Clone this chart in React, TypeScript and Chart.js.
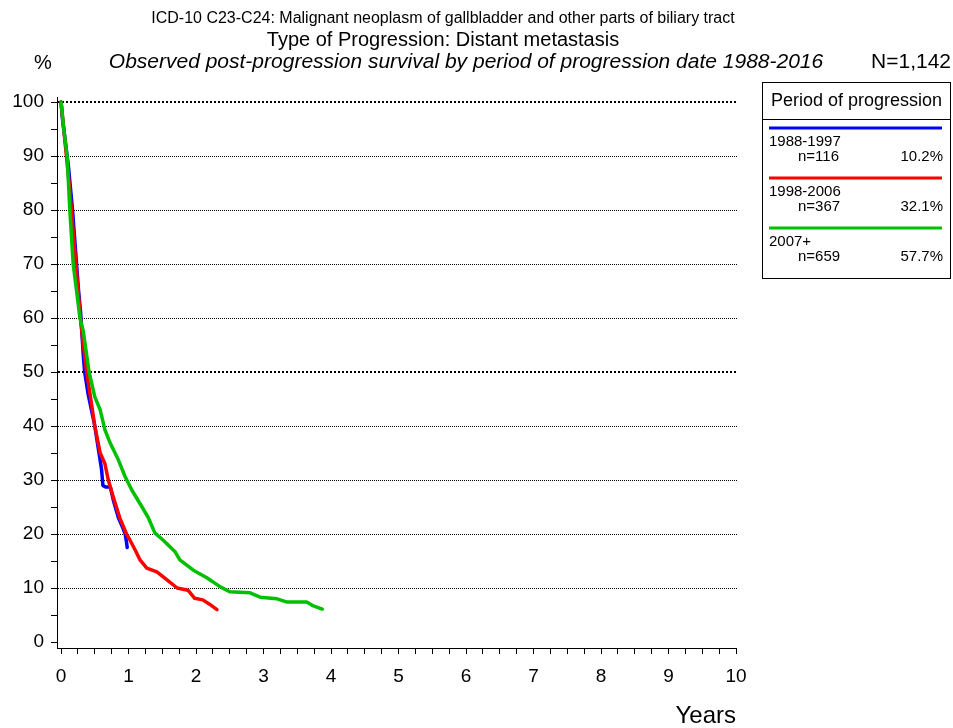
import React, { useEffect, useRef } from 'react';
import { Chart, registerables } from 'chart.js';

Chart.register(...registerables);

const FONT = '"Liberation Sans", Arial, Helvetica, sans-serif';

const titleLine1 = 'ICD-10 C23-C24: Malignant neoplasm of gallbladder and other parts of biliary tract';
const titleLine2 = 'Type of Progression: Distant metastasis';
const titleLine3 = 'Observed post-progression survival by period of progression date 1988-2016';
const totalLabel = 'N=1,142';
const yAxisTitle = '%';
const xAxisTitle = 'Years';
const legendTitle = 'Period of progression';

const yTickValues = [0, 5, 10, 15, 20, 25, 30, 35, 40, 45, 50, 55, 60, 65, 70, 75, 80, 85, 90, 95, 100];
const yGridValues = [10, 20, 30, 40, 50, 60, 70, 80, 90, 100];
const xTickValues = [
  0, 0.25, 0.5, 0.75, 1, 1.25, 1.5, 1.75, 2, 2.25, 2.5, 2.75, 3, 3.25, 3.5, 3.75, 4, 4.25, 4.5, 4.75,
  5, 5.25, 5.5, 5.75, 6, 6.25, 6.5, 6.75, 7, 7.25, 7.5, 7.75, 8, 8.25, 8.5, 8.75, 9, 9.25, 9.5, 9.75, 10,
];

// 1988-1997
const blueYears = [0, 0.02, 0.05, 0.08, 0.11, 0.14, 0.17, 0.2, 0.23, 0.26, 0.29, 0.31, 0.33, 0.35, 0.4, 0.45, 0.5, 0.55, 0.6, 0.62, 0.66, 0.73, 0.78, 0.85, 0.92, 0.95, 0.97, 0.98];
const blueSurv = [100, 97, 94, 91, 88, 84, 80, 75, 70, 65, 61, 57, 53, 50, 46, 43, 40, 36, 32, 29, 28.7, 28.7, 26, 23, 21, 20, 18.5, 17.5];

// 1998-2006
const redYears = [0, 0.04, 0.08, 0.12, 0.16, 0.2, 0.24, 0.28, 0.32, 0.38, 0.44, 0.5, 0.58, 0.65, 0.7, 0.77, 0.87, 0.97, 1.02, 1.1, 1.17, 1.27, 1.42, 1.57, 1.72, 1.88, 1.98, 2.1, 2.2, 2.31];
const redSurv = [100, 95, 90, 85, 79, 73, 67, 61, 56, 50, 45, 40, 35, 33, 30, 27, 23, 20, 18.9, 17, 15.2, 13.7, 13, 11.5, 10, 9.6, 8.1, 7.8, 7, 6];

// 2007+
const greenYears = [0, 0.04, 0.09, 0.13, 0.18, 0.23, 0.28, 0.33, 0.415, 0.5, 0.58, 0.65, 0.73, 0.85, 0.95, 1.05, 1.2, 1.29, 1.39, 1.51, 1.69, 1.76, 1.96, 2.16, 2.36, 2.5, 2.8, 2.95, 3.2, 3.35, 3.64, 3.72, 3.87];
const greenSurv = [100, 95, 90, 80, 70, 65, 60, 57.5, 50, 45.4, 43, 39.3, 36.8, 33.7, 30.6, 28.1, 25, 23.1, 20.2, 18.9, 16.7, 15.2, 13.3, 11.9, 10.2, 9.3, 9.1, 8.3, 8, 7.4, 7.4, 6.8, 6.1];

const seriesLabels = ['1988-1997', '1998-2006', '2007+'];
const seriesCounts = ['n=116', 'n=367', 'n=659'];
const seriesPercents = ['10.2%', '32.1%', '57.7%'];
const seriesColors = ['#0000ff', '#ff0000', '#00c000'];

const toPoints = (xs: number[], ys: number[]) => xs.map((x, i) => ({ x, y: ys[i] }));

const decorPlugin = {
  id: 'decor',
  beforeDatasetsDraw(chart: any) {
    const { ctx, chartArea, scales } = chart;
    const y = scales.y;
    ctx.save();
    ctx.strokeStyle = '#000';
    for (const v of yGridValues) {
      const bold = v === 50 || v === 100;
      const py = bold ? Math.round(y.getPixelForValue(v)) : Math.round(y.getPixelForValue(v)) + 0.5;
      ctx.lineWidth = bold ? 2 : 1;
      ctx.setLineDash(bold ? [2, 2] : [1, 1]);
      ctx.beginPath();
      ctx.moveTo(chartArea.left + 1, py);
      ctx.lineTo(chartArea.right + 2, py);
      ctx.stroke();
    }
    ctx.restore();
  },
  afterDraw(chart: any) {
    const { ctx, chartArea } = chart;
    ctx.save();
    ctx.fillStyle = '#000';
    ctx.textBaseline = 'middle';

    // titles
    ctx.textAlign = 'center';
    ctx.font = `16px ${FONT}`;
    ctx.fillText(titleLine1, 443, 19);
    ctx.font = `20px ${FONT}`;
    ctx.fillText(titleLine2, 443, 40);
    ctx.font = `italic 21px ${FONT}`;
    ctx.fillText(titleLine3, 466, 62);
    ctx.font = `20px ${FONT}`;
    ctx.fillText(yAxisTitle, 43, 63);
    ctx.textAlign = 'right';
    ctx.font = `21px ${FONT}`;
    ctx.fillText(totalLabel, 951, 62);

    // x axis title
    ctx.font = `24px ${FONT}`;
    ctx.textAlign = 'right';
    ctx.fillText(xAxisTitle, chartArea.right, 716);

    // legend box
    const bx = 762, by = 82, bw = 188, bh = 196;
    ctx.strokeStyle = '#000';
    ctx.lineWidth = 1;
    ctx.strokeRect(bx + 0.5, by + 0.5, bw, bh);
    ctx.beginPath();
    ctx.moveTo(bx, 119.5);
    ctx.lineTo(bx + bw, 119.5);
    ctx.stroke();
    ctx.textAlign = 'center';
    ctx.font = `18px ${FONT}`;
    ctx.fillText(legendTitle, bx + bw / 2 + 0.5, 101);

    for (let i = 0; i < seriesLabels.length; i++) {
      const ly = 128 + i * 50;
      ctx.strokeStyle = seriesColors[i];
      ctx.lineWidth = 3;
      ctx.beginPath();
      ctx.moveTo(769, ly);
      ctx.lineTo(942, ly);
      ctx.stroke();
      ctx.fillStyle = '#000';
      ctx.font = `15px ${FONT}`;
      ctx.textAlign = 'left';
      ctx.fillText(seriesLabels[i], 769, ly + 14);
      ctx.fillText(seriesCounts[i], 798, ly + 29);
      ctx.textAlign = 'right';
      ctx.fillText(seriesPercents[i], 943, ly + 29);
    }
    ctx.restore();
  },
};

export default function App() {
  const canvasRef = useRef<HTMLCanvasElement | null>(null);

  useEffect(() => {
    document.body.style.margin = '0';
    const canvas = canvasRef.current;
    if (!canvas) return;
    const datasets = [
      { data: toPoints(blueYears, blueSurv), color: seriesColors[0], order: 3 },
      { data: toPoints(redYears, redSurv), color: seriesColors[1], order: 2 },
      { data: toPoints(greenYears, greenSurv), color: seriesColors[2], order: 1 },
    ].map((d, i) => ({
      label: seriesLabels[i],
      data: d.data,
      borderColor: d.color,
      backgroundColor: d.color,
      borderWidth: 3.5,
      pointRadius: 0,
      tension: 0,
      fill: false,
      order: d.order,
      borderJoinStyle: 'round' as const,
      borderCapStyle: 'round' as const,
    }));

    const chart = new Chart(canvas, {
      type: 'line',
      data: { datasets },
      plugins: [decorPlugin],
      options: {
        animation: false,
        responsive: false,
        maintainAspectRatio: false,
        devicePixelRatio: 1,
        layout: { padding: { left: 0, right: 217, top: 97, bottom: 0 } },
        plugins: { legend: { display: false }, tooltip: { enabled: false }, title: { display: false } },
        scales: {
          x: {
            type: 'linear',
            min: -0.06,
            max: 10,
            afterFit: (s: any) => { s.height = 80; },
            afterBuildTicks: (s: any) => { s.ticks = xTickValues.map((v) => ({ value: v })); },
            grid: { display: true, drawOnChartArea: false, drawTicks: true, tickLength: 6, tickColor: '#000', color: '#000' },
            border: { display: true, color: '#000', width: 1 },
            ticks: {
              autoSkip: false,
              maxRotation: 0,
              padding: 11,
              color: '#000',
              font: { family: FONT, size: 19 },
              callback: (v: any) => (Number.isInteger(v) ? String(v) : ''),
            },
          },
          y: {
            type: 'linear',
            min: -1.11,
            max: 100.93,
            afterFit: (s: any) => { s.width = 57; },
            afterBuildTicks: (s: any) => { s.ticks = yTickValues.map((v) => ({ value: v })); },
            grid: { display: true, drawOnChartArea: false, drawTicks: true, tickLength: 6, tickColor: '#000', color: '#000' },
            border: { display: true, color: '#000', width: 1 },
            ticks: {
              autoSkip: false,
              padding: 7,
              color: '#000',
              font: { family: FONT, size: 19 },
              callback: (v: any) => (v % 10 === 0 ? String(v) : ''),
            },
          },
        },
      },
    });
    return () => chart.destroy();
  }, []);

  return (
    <div style={{ position: 'fixed', left: 0, top: 0, width: 953, height: 728, background: '#fff' }}>
      <canvas ref={canvasRef} width={953} height={728} style={{ width: 953, height: 728, display: 'block' }} />
    </div>
  );
}
